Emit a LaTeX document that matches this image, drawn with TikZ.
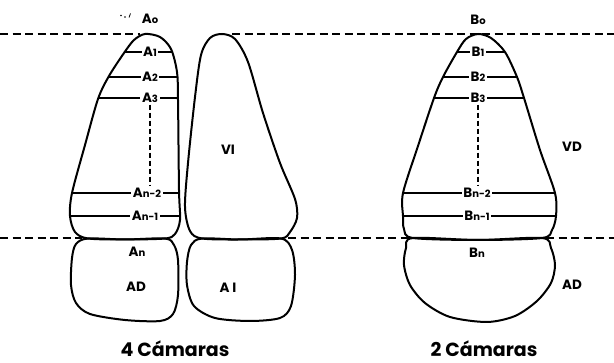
\documentclass[tikz,border=0pt]{standalone}
\usepackage{fontspec}
\setmainfont{Poppins}
\newcommand\idx[1]{{\fontsize{10}{10}\selectfont #1}}
\begin{document}
\begin{tikzpicture}[x=1pt,y=-1pt,
  wall/.style={line width=2pt, line join=round},
  guide/.style={line width=1.6pt, dash pattern=on 8pt off 4.5pt},
  slice/.style={line width=1.3pt},
  spine/.style={line width=1.2pt, dash pattern=on 5pt off 3pt},
  slicetag/.style={font=\bfseries\fontsize{13.5}{13.5}\selectfont, fill=white, inner sep=1.6pt, text depth=0pt},
  chamber/.style={font=\bfseries\fontsize{13.5}{13.5}\selectfont, inner sep=1pt, text depth=0pt},
  caption/.style={font=\bfseries\fontsize{19}{19}\selectfont, anchor=base, inner sep=0pt},
  % outlines of the chambers
  ventA/.style={insert path={plot[smooth cycle] coordinates {(145,34) (160,37) (171,49) (177,72) (178,100) (179,190) (180,220) (175,234) (165,238.5) (125,239.5) (88,238.5) (75,232) (70,216) (72,193) (85,145) (98,99) (109,76) (124,53) (134,40)}}},
  atrA/.style={insert path={plot[smooth cycle] coordinates {(88,238.5) (76,244) (72,258) (71,285) (76,303) (90,314) (125,320) (160,321) (173,314) (178,295) (178,260) (174,245) (165,238.5) (125,239.5)}}},
  ventI/.style={insert path={plot[smooth cycle] coordinates {(222,34) (235,39) (248,62) (263,113) (280,163) (295,199) (297,218) (290,232) (281,238.5) (240,239.5) (202,238.5) (190,231) (185,207) (188,163) (195,97) (201,55) (210,38)}}},
  atrI/.style={insert path={plot[smooth cycle] coordinates {(202,238.5) (191,245) (187,262) (187,285) (194,306) (215,318) (250,321) (280,318) (291,306) (295,275) (292,250) (281,238.5) (240,239.5)}}},
  ventB/.style={insert path={plot[smooth cycle] coordinates {(478,34) (491,38) (505,52) (517,77) (524,98) (540,150) (555,193) (556,216) (552,230) (542,238) (478,240) (413,238) (404,229) (403,216) (403,193) (418,146) (434,98) (443,77) (457,52) (466,39)}}},
  atrB/.style={insert path={plot[smooth cycle] coordinates {(413,238) (406,248) (404,265) (410,285) (425,303) (450,317) (487,322) (515,316) (537,301) (551,283) (555,265) (551,248) (542,238) (478,240)}}}
]
\useasboundingbox (0,0) rectangle (614,363);

% reference planes
\coordinate (t0) at (0,34);   \coordinate (t1) at (140,34);
\coordinate (t2) at (232,34); \coordinate (t3) at (614,34);
\coordinate (m0) at (0,238);  \coordinate (m1) at (82,238);
\coordinate (m2) at (288,238); \coordinate (m3) at (410,238);
\coordinate (m4) at (546,238); \coordinate (m5) at (614,238);
\draw[guide] (t0) -- (t1);
\draw[guide] (t2) -- (t3);
\draw[guide] (m0) -- (m1);
\draw[guide] (m2) -- (m3);
\draw[guide] (m4) -- (m5);

% slice levels, clipped to each ventricle
\begin{scope}
  \clip[ventA];
  \foreach \y in {52,77,98,193,216} \draw[slice] (60,\y) -- (200,\y);
  \node[slicetag] (a1) at (150,52) {A\idx{1}};
  \node[slicetag] (a2) at (150,77) {A\idx{2}};
  \node[slicetag] (a3) at (150,98) {A\idx{3}};
  \node[slicetag] (an2) at (147,193) {A\idx{n-2}};
  \node[slicetag] (an1) at (145,216) {A\idx{n-1}};
\end{scope}
\begin{scope}
  \clip[ventB];
  \foreach \y in {52,77,98,193,216} \draw[slice] (390,\y) -- (570,\y);
  \node[slicetag] (b1) at (478,52) {B\idx{1}};
  \node[slicetag] (b2) at (478,77) {B\idx{2}};
  \node[slicetag] (b3) at (478,98) {B\idx{3}};
  \node[slicetag] (bn2) at (477,193) {B\idx{n-2}};
  \node[slicetag] (bn1) at (477,216) {B\idx{n-1}};
\end{scope}
\draw[spine] (a3.south) -- (a3.south |- an2.north);
\draw[spine] (b3.south) -- (b3.south |- bn2.north);

% chamber walls
\draw[wall, ventA];
\draw[wall, atrA];
\draw[wall, ventI];
\draw[wall, atrI];
\draw[wall, ventB];
\draw[wall, atrB];

% labels
\node[chamber] (a0) at (150,19) {A\idx{o}};
\fill (121,15.5) circle (0.8pt) (125,17) circle (0.8pt);
\draw[line width=0.8pt] (130.5,13.5) -- (129,17.5);
\node[chamber] (an) at (137,252) {A\idx{n}};
\node[chamber] (ad1) at (136,287) {AD};
\node[chamber] (vi) at (228,150) {VI};
\node[chamber] (ai) at (228,288) {A I};
\node[chamber] (b0) at (478,20) {B\idx{o}};
\node[chamber] (bn) at (477,253) {B\idx{n}};
\node[chamber] (vd) at (572,147) {VD};
\node[chamber] (ad2) at (572,285) {AD};

\node[caption] (c4) at (175,357) {4 Cámaras};
\node[caption] (c2) at (484,357) {2 Cámaras};
\end{tikzpicture}
\end{document}
